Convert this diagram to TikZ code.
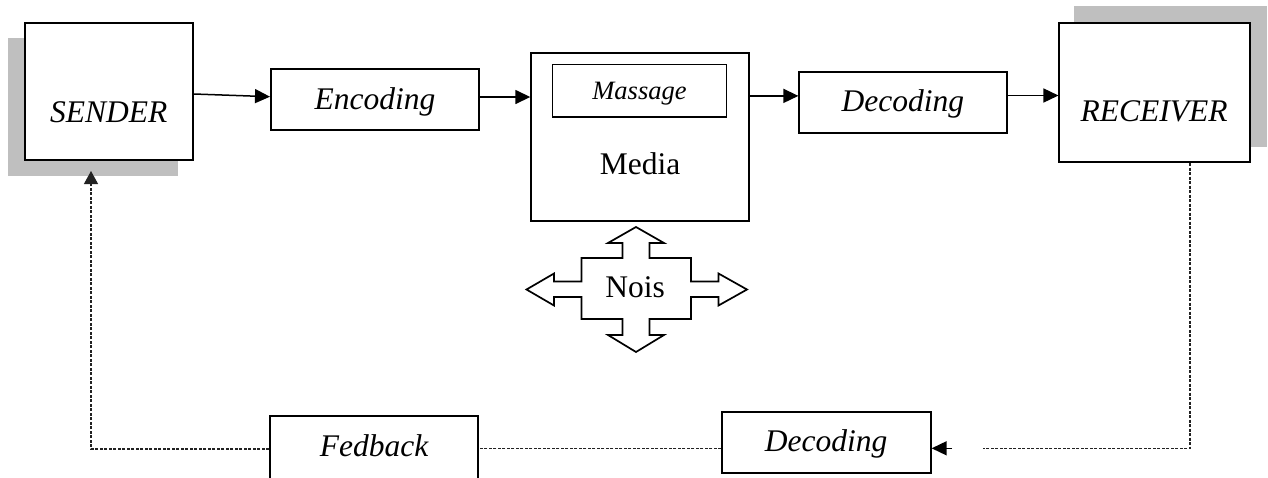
\documentclass[tikz,border=0pt]{standalone}
\usepackage{fontspec}
\setmainfont{Liberation Serif}
\usetikzlibrary{arrows.meta}
\definecolor{shadowgray}{HTML}{BFBFBF}
\definecolor{dashgray}{HTML}{222222}
\begin{document}
\begin{tikzpicture}[x=1pt,y=-1pt,
  box/.style={draw=black,line width=1.8pt,fill=white,inner sep=0pt},
  txt/.style={inner sep=0pt,anchor=base,font=\fontsize{31.5}{36}\selectfont},
  itxt/.style={txt,font=\fontsize{31.5}{36}\selectfont\itshape},
  arr/.style={line width=1.5pt,-{Triangle[length=15pt,width=14pt]}},
  fbline/.style={draw=dashgray,line width=1.2pt,dash pattern=on 3pt off 1.5pt},
  fbarr/.style={fbline,-{Triangle[length=13pt,width=14pt]}}]
\useasboundingbox (0,0) rectangle (1268,477);
\clip (0,0) rectangle (1268,477);
% shadows
\fill[shadowgray] (8,38) rectangle (178,176);
\fill[shadowgray] (1074,6) rectangle (1267,147);
% main boxes
\node[box,minimum width=168pt,minimum height=137pt] (sender) at (109,91.5) {};
\node[itxt] (senderT) at (108.8,122.3) {SENDER};
\node[box,minimum width=208pt,minimum height=61pt] (encoding) at (374.9,99.7) {};
\node[itxt] (encodingT) at (374.9,109.3) {Encoding};
\node[box,minimum width=218pt,minimum height=168pt] (media) at (640.2,136.9) {};
\node[draw=black,line width=1.4pt,inner sep=0pt,minimum width=174pt,minimum height=52.5pt] (massage) at (639.5,90.7) {};
\node[txt,font=\fontsize{26.5}{30}\selectfont\itshape] (massageT) at (639.5,99.3) {Massage};
\node[txt] (mediaT) at (640,174) {Media};
\node[box,minimum width=208pt,minimum height=61.5pt] (decoding) at (903.3,102.5) {};
\node[itxt] (decodingT) at (902.9,111.7) {Decoding};
\node[box,minimum width=190.5pt,minimum height=139pt] (receiver) at (1154.6,92.8) {};
\node[itxt] (receiverT) at (1154.2,121.7) {RECEIVER};
% noise cross
\draw[line width=1.7pt,fill=white,line join=miter]
  (636,227) -- (664,243) -- (649.5,243) -- (649.5,258) -- (691,258) -- (691,281.5)
  -- (718.5,281.5) -- (718.5,273.5) -- (747,289.5) -- (718.5,305.5) -- (718.5,297)
  -- (691,297) -- (691,319) -- (649.5,319) -- (649.5,335) -- (664,335) -- (636,352)
  -- (608,335) -- (622.5,335) -- (622.5,319) -- (581.5,319) -- (581.5,297)
  -- (554,297) -- (554,305.5) -- (526.5,289.5) -- (554,273.5) -- (554,281.5)
  -- (581.5,281.5) -- (581.5,258) -- (622.5,258) -- (622.5,243) -- (608,243) -- cycle;
\node[txt] (noise) at (635.2,297.7) {Nois};
% feedback boxes
\node[box,minimum width=208pt,minimum height=66pt] (feedback) at (374,449) {};
\node[itxt] (feedbackT) at (374.2,456.7) {Fedback};
\node[box,minimum width=208.5pt,minimum height=61pt] (decoding2) at (826.5,442.8) {};
\node[itxt] (decoding2T) at (826.2,451.7) {Decoding};
% forward arrows
\draw[arr] ([yshift=-2.5pt]sender.east) -- ([yshift=3pt]encoding.west);
\draw[arr] ([yshift=2.7pt]encoding.east) coordinate (e1) -- (e1 -| media.west);
\draw[arr] ([yshift=41pt]media.east) coordinate (m1) -- (m1 -| decoding.west);
\draw[arr] ([yshift=7pt]decoding.east) coordinate (d1) -- (d1 -| receiver.west);
% feedback path
\coordinate (rdown) at ([xshift=35.4pt]receiver.south);
\coordinate (fbend) at (983,448.3);
\draw[fbline] (rdown) |- (fbend);
\coordinate (tail) at (952,448.3);
\draw[arr] (tail) -- (tail -| decoding2.east);
\draw[fbline] ([yshift=-5.5pt]decoding2.west) -- ([yshift=-5.5pt]decoding2.west -| feedback.east);
\coordinate (upend) at (91,171);
\draw[fbarr] (feedback.west) -| (upend);
\end{tikzpicture}
\end{document}
